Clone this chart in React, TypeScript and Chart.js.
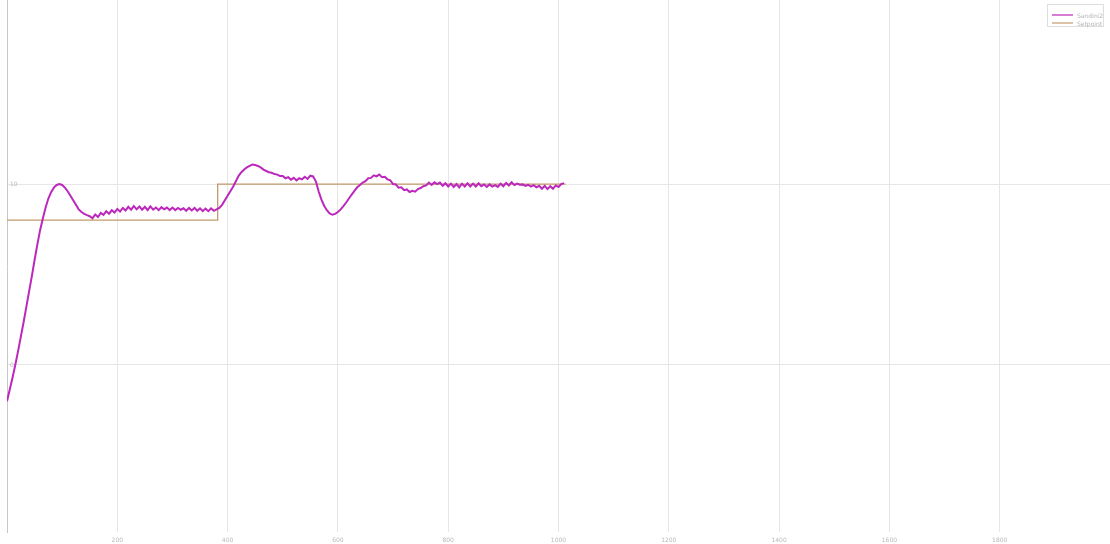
import React, { useEffect, useRef } from "react";
import { Chart, registerables } from "chart.js";

Chart.register(...registerables);

const sampleStep = 5;
const processValues = [
  -2.0, -1.35, -0.7, 0.0, 0.75, 1.55, 2.35, 3.2, 4.05, 4.9,
  5.8, 6.65, 7.45, 8.1, 8.7, 9.2, 9.55, 9.8, 9.95, 10.0,
  9.95, 9.8, 9.6, 9.35, 9.1, 8.85, 8.6, 8.45, 8.35, 8.28,
  8.22, 8.1, 8.32, 8.18, 8.4, 8.3, 8.5, 8.36, 8.55, 8.42,
  8.62, 8.48, 8.68, 8.54, 8.74, 8.58, 8.78, 8.6, 8.76, 8.58,
  8.74, 8.56, 8.76, 8.58, 8.7, 8.56, 8.72, 8.6, 8.7, 8.56,
  8.7, 8.56, 8.68, 8.58, 8.66, 8.52, 8.68, 8.54, 8.68, 8.52,
  8.66, 8.5, 8.64, 8.5, 8.66, 8.52, 8.6, 8.68, 8.85, 9.1,
  9.35, 9.6, 9.85, 10.15, 10.45, 10.65, 10.8, 10.92, 11.0, 11.08,
  11.05, 11.0, 10.92, 10.8, 10.72, 10.65, 10.62, 10.55, 10.52, 10.45,
  10.45, 10.32, 10.38, 10.24, 10.34, 10.2, 10.32, 10.26, 10.4, 10.28,
  10.46, 10.42, 10.15, 9.6, 9.15, 8.8, 8.55, 8.38, 8.3, 8.35,
  8.45, 8.6, 8.78, 8.98, 9.2, 9.42, 9.62, 9.82, 9.95, 10.08,
  10.16, 10.32, 10.34, 10.48, 10.42, 10.52, 10.38, 10.4, 10.26, 10.2,
  10.0, 9.98, 9.8, 9.82, 9.66, 9.7, 9.56, 9.62, 9.58, 9.72,
  9.78, 9.88, 9.92, 10.08, 9.95, 10.1, 10.0, 10.08, 9.9, 10.04,
  9.86, 10.02, 9.84, 10.0, 9.82, 10.02, 9.86, 10.04, 9.86, 10.02,
  9.86, 10.04, 9.88, 9.98, 9.84, 9.98, 9.86, 9.94, 9.84, 10.02,
  9.88, 10.06, 9.92, 10.1, 9.94, 10.02, 9.96, 9.98, 9.9, 9.96,
  9.86, 9.94, 9.82, 9.9, 9.74, 9.9, 9.72, 9.88, 9.74, 9.92,
  9.84, 10.0, 10.05,
];
const setpointX = [0, 382, 382, 1013];
const setpointY = [8, 8, 10, 10];
const xTicks = [200, 400, 600, 800, 1000, 1200, 1400, 1600, 1800];
const yTicks = [0, 10];
const seriesNames = ["Sandini2", "Setpoint"];
const seriesColors = ["#bb28bb", "#c49a6c"];

export default function App() {
  const ref = useRef<HTMLCanvasElement>(null);
  useEffect(() => {
    document.body.style.margin = "0";
    const processData = processValues.map((y, i) => ({ x: i * sampleStep, y }));
    const setpointData = setpointX.map((x, i) => ({ x, y: setpointY[i] }));
    const chart = new Chart(ref.current!, {
      type: "line",
      data: {
        datasets: [
          {
            label: seriesNames[0],
            data: processData,
            borderColor: seriesColors[0],
            borderWidth: 2,
            pointRadius: 0,
            tension: 0,
          },
          {
            label: seriesNames[1],
            data: setpointData,
            borderColor: seriesColors[1],
            borderWidth: 1.3,
            pointRadius: 0,
            tension: 0,
          },
        ],
      },
      options: {
        animation: false,
        responsive: false,
        maintainAspectRatio: false,
        layout: { padding: { left: 7, right: 0, top: 0, bottom: 0 } },
        plugins: { legend: { display: false }, tooltip: { enabled: false } },
        scales: {
          x: {
            type: "linear",
            min: 0,
            max: 2000,
            afterBuildTicks: (s: any) => {
              s.ticks = xTicks.map((v) => ({ value: v }));
            },
            afterFit: (s: any) => {
              s.paddingLeft = 0;
              s.paddingRight = 0;
              s.height = 12;
            },
            grid: { color: "#e6e6e6", drawTicks: false },
            border: { display: false },
            ticks: {
              color: "#b8b8b8",
              font: { size: 6, family: "DejaVu Sans" },
              padding: 5,
              maxRotation: 0,
              callback: (v: any) => String(v),
            },
          },
          y: {
            type: "linear",
            min: -9.23,
            max: 20.17,
            afterBuildTicks: (s: any) => {
              s.ticks = yTicks.map((v) => ({ value: v }));
            },
            afterFit: (s: any) => {
              s.paddingTop = 0;
              s.paddingBottom = 0;
              s.width = 0;
            },
            grid: { color: "#e6e6e6", drawTicks: false },
            border: { display: true, color: "#c8c8c8" },
            ticks: {
              mirror: true,
              color: "#b8b8b8",
              font: { size: 6, family: "DejaVu Sans" },
              padding: 3,
              callback: (v: any) => String(v),
            },
          },
        },
      },
    });
    return () => chart.destroy();
  }, []);

  return (
    <div style={{ position: "fixed", left: 0, top: 0, width: 1110, height: 544, background: "#fff" }}>
      <canvas ref={ref} width={1110} height={544} style={{ display: "block" }} />
      <div
        style={{
          position: "absolute",
          left: 1047,
          top: 4,
          width: 57,
          height: 23,
          border: "1px solid #dedede",
          background: "#fff",
          boxSizing: "border-box",
          fontFamily: "DejaVu Sans",
          fontSize: 6,
          color: "#b4b4b4",
        }}
      >
        {seriesNames.map((n, i) => (
          <div
            key={n}
            style={{
              position: "absolute",
              left: 4,
              top: 6 + i * 8,
              height: 8,
              display: "flex",
              alignItems: "center",
              whiteSpace: "nowrap",
            }}
          >
            <span style={{ display: "inline-block", width: 21, height: 2, background: seriesColors[i], opacity: 0.6, marginRight: 4 }} />
            <span>{n}</span>
          </div>
        ))}
      </div>
    </div>
  );
}
